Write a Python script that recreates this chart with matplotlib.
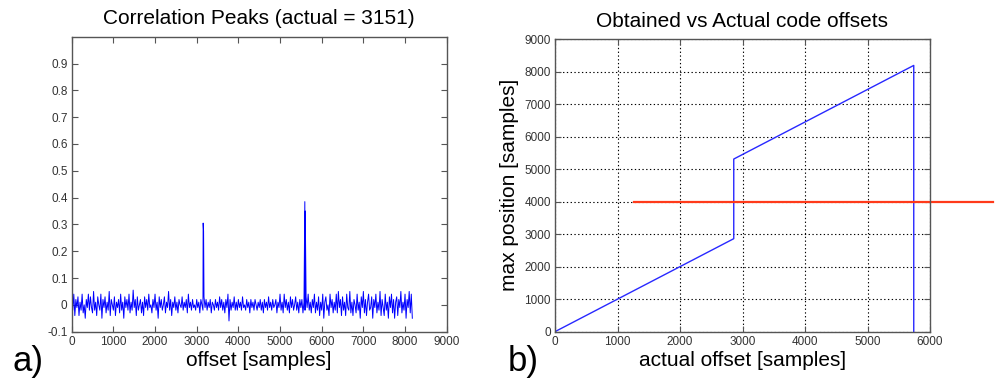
import numpy as np
import matplotlib.pyplot as plt

plt.rcParams['font.family'] = ['Liberation Sans', 'DejaVu Sans']

# correlation noise floor, one value every 25 samples, in hundredths
noise_step = 25
noise_hundredths = [
    1, -2, 4, -4, 2, -1, 3, -4, 1, -2, 4, -3, 0, -5, 2, -1, 4, -2, 3, -1,
    -3, 5, -2, 1, -4, 3, 0, -2, 4, -5, 2, -1, 3, -3, 1, -2, 5, -4, 2, 0,
    -2, 3, -4, 1, -1, 2, -3, 4, -2, 1, -5, 3, -1, 2, -2, 4, -3, 1, -2, 5.5,
    -1, 2, -4, 3, -2, 0, 2, -3, 1, -4, 3, -1, 2, -2, 4, -1, 0, -3, 2, -1,
    4, -2, 1, -5, 3, -1, 2, -2, 0, 3, -3, 1, -1, 5, -2, 2, -4, 1, -1, 3,
    -2, 1, -3, 2, 0, -1, 3, -2, 1, -1, 2, -3, 4, -1, 1, -2, 2, -1, 0, -2,
    2, -1, 1, -3, 2, 0, -2, 3, -1, 2, -2, 1, -1, 2, -3, 1, 0, -2, 2, -1,
    1, -2, 3, -1, 2, -2, 1, -3, 2, -1, 4, -6, 2, -2, 1, -1, 3, -2, 1, -2,
    2, -1, 1, -2, 3, -1, 0, -2, 2, -1, 1, -3, 2, -1, 1, -2, 2, 0, -2, 1,
    -1, 2, -2, 1, -3, 2, -1, 1, -2, 3, -1, 1, -2, 2, -1, 0, 2, -3, 1, -1,
    4, -2, 1, -3, 4, -1, 2, -2, 1, -3, 3, -1, 2, -2, 0, 3, -2, 1, -3, 2,
    -1, 2, -3, 1, -2, 3, -1, 4, -2, 1, -3, 2, -1, 4, -3, 1, -2, 3, -4, 1,
    -2, 4, -5, 1, 3, -2, 0, -4, 4, -1, 2, -3, 1, -2, 4, -3, 5, -1, 2, -4,
    3, -2, 1, -4, 4, -1, -2, 5, -3, 1, -4, 2, 0, -3, 4, -2, 1, -5, 3, -1,
    5, -3, 2, -4, 1, 4, -2, -1, 3, -5, 2, -1, 4, -3, 1, -2, 5, -4, 2, -1,
    -4, 4, -2, 1, -5, 3, -1, 4, -3, 2, -5, 1, 3, -4, 2, -1, 5, -3, 1, -2,
    4, -5, 2, -1, 5, -3, 4, -5,
]
peak_offsets = [3155, 3165, 5595, 5605]
peak_values = [0.305, 0.275, 0.385, 0.35]

# obtained vs actual code offset
actual_offset = [0, 2860, 2860, 5740, 5740]
max_position = [0, 2860, 5310, 8190, 0]
threshold_x = [1270, 7000]
threshold_y = [4000, 4000]

frame_color = '#555555'
tick_color = '#333333'


def style_axes(ax):
    """MATLAB-ish frame: ticks inward on all four sides."""
    for s in ax.spines.values():
        s.set_color(frame_color)
        s.set_linewidth(1.0)
    ax.tick_params(direction='in', top=True, right=True, length=4,
                   color=frame_color, labelsize=8.5, labelcolor=tick_color, pad=3)


def draw_peaks(ax):
    noise = np.array(noise_hundredths) / 100.0
    x = np.concatenate([np.arange(len(noise)) * noise_step, peak_offsets])
    y = np.concatenate([noise, peak_values])
    order = np.argsort(x, kind='stable')
    ax.plot(x[order], y[order], color='#0000ff', linewidth=0.7)
    ax.set_xlim(0, 9000)
    ax.set_ylim(-0.1, 1.0)
    ax.set_xticks(np.arange(0, 9001, 1000))
    ax.set_yticks([-0.1, 0, 0.1, 0.2, 0.3, 0.4, 0.5, 0.6, 0.7, 0.8, 0.9])
    ax.set_yticklabels(['-0.1', '0', '0.1', '0.2', '0.3', '0.4', '0.5', '0.6', '0.7', '0.8', '0.9'])
    ax.set_title('Correlation Peaks (actual = 3151)', fontsize=15, pad=9)
    ax.set_xlabel('offset [samples]', fontsize=15, labelpad=2)
    style_axes(ax)


def draw_offsets(ax):
    ax.plot(actual_offset, max_position, color='#2828ff', linewidth=1.0)
    ax.plot(threshold_x, threshold_y, color='#ff3a1a', linewidth=1.6, clip_on=False)
    ax.set_xlim(0, 6000)
    ax.set_ylim(0, 9000)
    ax.set_xticks(np.arange(0, 6001, 1000))
    ax.set_yticks(np.arange(0, 9001, 1000))
    ax.grid(True, color='black', linestyle=(0, (1.2, 2.2)), linewidth=0.8)
    ax.set_axisbelow(True)
    ax.set_title('Obtained vs Actual code offsets', fontsize=15, pad=9)
    ax.set_xlabel('actual offset [samples]', fontsize=15, labelpad=2)
    ax.set_ylabel('max position [samples]', fontsize=15, labelpad=4)
    style_axes(ax)


if __name__ == "__main__":
    fig = plt.figure(figsize=(10, 3.87), dpi=100)
    ax1 = fig.add_axes([0.0717, 0.143, 0.375, 0.762])
    ax2 = fig.add_axes([0.555, 0.143, 0.375, 0.756])
    draw_peaks(ax1)
    draw_offsets(ax2)
    fig.text(0.012, 0.065, 'a)', fontsize=25, va='center')
    fig.text(0.508, 0.065, 'b)', fontsize=25, va='center')
    fig.savefig('out.png', dpi=100)
